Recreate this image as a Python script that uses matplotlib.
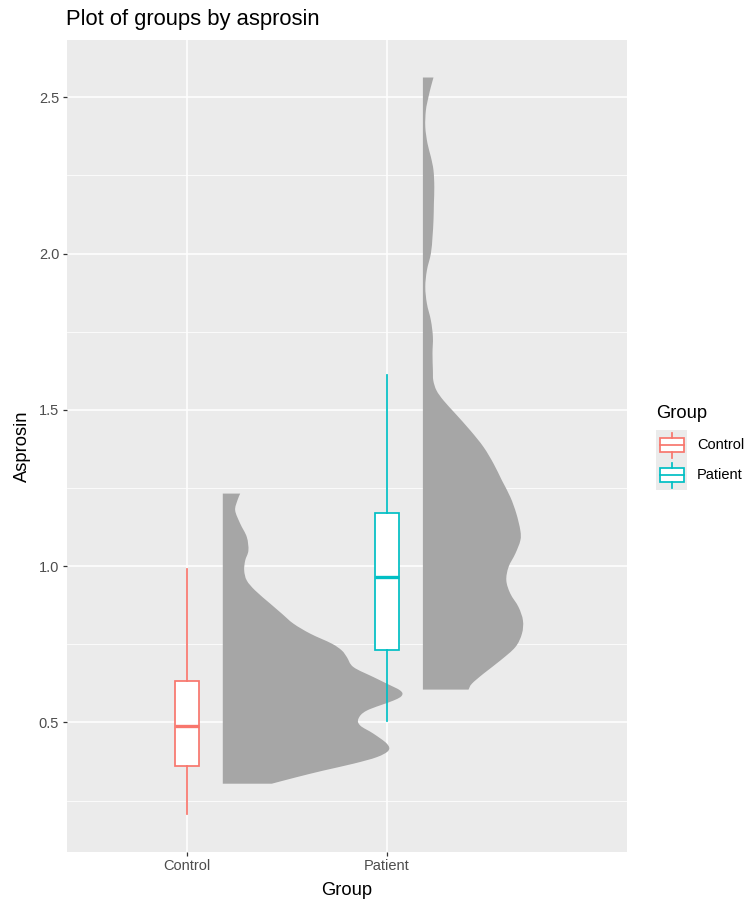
import matplotlib
matplotlib.use('Agg')
import matplotlib.pyplot as plt
from matplotlib.patches import Rectangle, PathPatch
from matplotlib.path import Path
import numpy as np

plt.rcParams['font.family'] = ['Liberation Sans', 'DejaVu Sans']

# 数据：组别、箱线图统计量、半小提琴轮廓
groups = ['Control', 'Patient']
group_colors = ['#F8766D', '#00BFC4']

box_whislo = [0.207, 0.506]
box_q1 = [0.362, 0.732]
box_med = [0.488, 0.965]
box_q3 = [0.633, 1.170]
box_whishi = [0.992, 1.612]

ctrl_y = [1.232, 1.210, 1.178, 1.136, 1.093, 1.050, 1.018, 0.986, 0.954, 0.922,
          0.880, 0.848, 0.816, 0.784, 0.752, 0.730, 0.709, 0.677, 0.645, 0.624,
          0.602, 0.586, 0.570, 0.538, 0.512, 0.490, 0.464, 0.432, 0.410, 0.389,
          0.368, 0.346, 0.325, 0.304]
ctrl_w = [0.087, 0.073, 0.062, 0.087, 0.120, 0.128, 0.112, 0.107, 0.120, 0.162,
          0.237, 0.295, 0.353, 0.437, 0.545, 0.595, 0.620, 0.653, 0.753, 0.820,
          0.887, 0.895, 0.853, 0.720, 0.678, 0.687, 0.753, 0.820, 0.828, 0.770,
          0.653, 0.503, 0.370, 0.245]

pat_y = [2.563, 2.533, 2.501, 2.458, 2.405, 2.352, 2.309, 2.266, 2.213, 2.160,
         2.106, 2.053, 2.000, 1.946, 1.893, 1.840, 1.786, 1.733, 1.680, 1.626,
         1.594, 1.562, 1.530, 1.488, 1.434, 1.381, 1.328, 1.274, 1.221, 1.168,
         1.114, 1.082, 1.040, 0.997, 0.954, 0.912, 0.869, 0.826, 0.784, 0.741,
         0.698, 0.656, 0.624, 0.605]
pat_w = [0.053, 0.040, 0.028, 0.015, 0.012, 0.023, 0.040, 0.053, 0.057, 0.055,
         0.053, 0.048, 0.040, 0.020, 0.012, 0.020, 0.040, 0.050, 0.048, 0.050,
         0.052, 0.068, 0.103, 0.162, 0.237, 0.303, 0.353, 0.395, 0.437, 0.467,
         0.487, 0.487, 0.462, 0.428, 0.417, 0.437, 0.478, 0.500, 0.495, 0.462,
         0.387, 0.303, 0.245, 0.228]

y_ticks = [0.5, 1.0, 1.5, 2.0, 2.5]


def half_violin_path(x0, ys, ws):
    # 右侧轮廓用平滑曲线连接读取的点，左侧为竖直边
    pts = np.column_stack([x0 + np.asarray(ws), np.asarray(ys)])
    verts = [(x0, ys[0]), tuple(pts[0])]
    codes = [Path.MOVETO, Path.LINETO]
    n = len(pts)
    for i in range(n - 1):
        p0 = pts[i - 1] if i > 0 else pts[i]
        p1 = pts[i]
        p2 = pts[i + 1]
        p3 = pts[i + 2] if i + 2 < n else pts[i + 1]
        c1 = p1 + (p2 - p0) / 6.0
        c2 = p2 - (p3 - p1) / 6.0
        verts += [tuple(c1), tuple(c2), tuple(p2)]
        codes += [Path.CURVE4] * 3
    verts += [(x0, ys[-1]), (x0, ys[0])]
    codes += [Path.LINETO, Path.CLOSEPOLY]
    return Path(verts, codes)


W, H = 750, 901
fig = plt.figure(figsize=(W / 100, H / 100), dpi=100)
fig.patch.set_facecolor('white')

ax = fig.add_axes([66.5 / W, (H - 852) / H, (627 - 66.5) / W, (852 - 40) / H])
ax.set_facecolor('#EBEBEB')
for s in ax.spines.values():
    s.set_visible(False)

positions = np.arange(1, len(groups) + 1)

# 网格线
ax.set_yticks(y_ticks)
ax.set_yticks(np.arange(0.25, 2.6, 0.5), minor=True)
ax.set_xticks(positions)
ax.set_xticklabels(groups)
ax.grid(which='major', color='white', linewidth=1.1, zorder=0)
ax.grid(which='minor', axis='y', color='white', linewidth=0.55, zorder=0)
ax.set_axisbelow(True)

# 半小提琴
offset = 0.18
for pos, vy, vw in zip(positions, [ctrl_y, pat_y], [ctrl_w, pat_w]):
    p = half_violin_path(pos + offset, vy, vw)
    ax.add_patch(PathPatch(p, facecolor='#A6A6A6', edgecolor='none', zorder=2))

# 箱线图
for i, pos in enumerate(positions):
    stats = [dict(whislo=box_whislo[i], q1=box_q1[i], med=box_med[i],
                  q3=box_q3[i], whishi=box_whishi[i])]
    c = group_colors[i]
    ax.bxp(stats, positions=[pos], widths=0.12, showcaps=False, showfliers=False,
           patch_artist=True, manage_ticks=False,
           boxprops=dict(facecolor='white', edgecolor=c, linewidth=1.25),
           whiskerprops=dict(color=c, linewidth=1.25),
           medianprops=dict(color=c, linewidth=2.4, solid_capstyle='butt'),
           zorder=3)

ax.set_xlim(0.399, 3.2)
ax.set_ylim(0.0855, 2.683)
ax.tick_params(which='major', direction='out', length=2.75, width=0.9,
               color='#333333', labelcolor='#4D4D4D', labelsize=10.5, pad=2.5)
ax.tick_params(which='minor', length=0)

# 标题与坐标轴标签（像素坐标）
ov = fig.add_axes([0, 0, 1, 1])
ov.set_xlim(0, W)
ov.set_ylim(H, 0)
ov.axis('off')
ov.patch.set_visible(False)

ov.text(66.5, 25, 'Plot of groups by asprosin', fontsize=15.8, color='black',
        ha='left', va='baseline')
ov.text(346.7, 895, 'Group', fontsize=13.2, color='black', ha='center', va='baseline')
ov.text(22, 446, 'Asprosin', fontsize=13.2, color='black', ha='center', va='center',
        rotation=90)

# 图例
ov.text(656.5, 418.3, 'Group', fontsize=13.2, color='black', ha='left', va='baseline')
key_top = 430
key_h = 30
for i, (g, c) in enumerate(zip(groups, group_colors)):
    y0 = key_top + i * key_h
    ov.add_patch(Rectangle((656, y0), 31, key_h, facecolor='#EBEBEB', edgecolor='none'))
    cy = y0 + 15
    ov.add_patch(Rectangle((659.5, cy - 7), 24, 14, facecolor='white', edgecolor=c,
                           linewidth=1.25))
    ov.plot([659.5, 683.5], [cy, cy], color=c, linewidth=1.25)
    ov.plot([671.5, 671.5], [cy - 12.5, cy - 7], color=c, linewidth=1.25)
    ov.plot([671.5, 671.5], [cy + 7, cy + 12.5], color=c, linewidth=1.25)
    ov.text(697, cy, g, fontsize=10.5, color='black', ha='left', va='center')

fig.savefig('out.png', dpi=100)
